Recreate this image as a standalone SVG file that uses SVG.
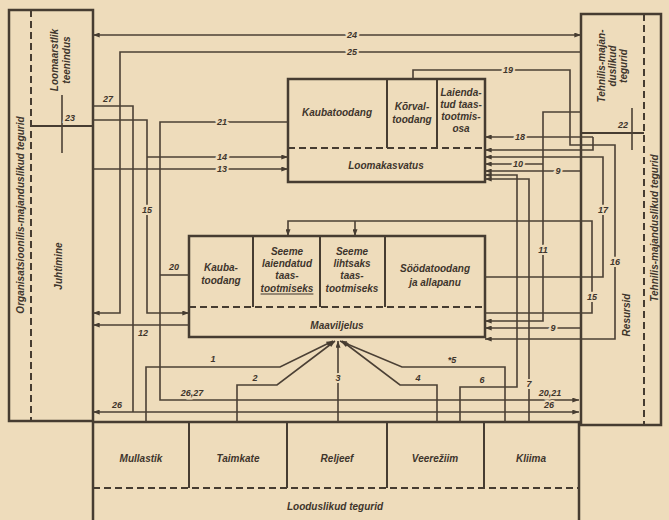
<svg xmlns="http://www.w3.org/2000/svg" width="669" height="520" viewBox="0 0 669 520">
<defs>
<marker id="a" viewBox="0 0 8 6" refX="8" refY="3" markerWidth="8" markerHeight="5" markerUnits="userSpaceOnUse" orient="auto-start-reverse">
<path d="M0,0 L8,3 L0,6 z" fill="#463c31"/>
</marker>
<style>
.bx{fill:none;stroke:#463c31;stroke-width:2.5}
.dv{fill:none;stroke:#463c31;stroke-width:2}
.ds{fill:none;stroke:#463c31;stroke-width:2;stroke-dasharray:7,4}
.c{fill:none;stroke:#4b4035;stroke-width:1.6}
.t{font-family:"Liberation Sans",Arial,sans-serif;font-style:italic;font-weight:bold;font-size:10px;fill:#3e352c;text-anchor:middle;dominant-baseline:central}
.lb{font-family:"Liberation Sans",Arial,sans-serif;font-style:italic;font-weight:bold;font-size:9px;fill:#3e352c;text-anchor:middle;dominant-baseline:central;stroke:#eedcbb;stroke-width:4;paint-order:stroke}
</style>
</defs>
<rect width="669" height="520" fill="#eedcbb"/>

<g id="left-box">
<rect class="bx" x="9" y="10" width="84" height="411" stroke-width="3"/>
<line class="ds" x1="31" y1="10" x2="31" y2="421"/>
<line class="dv" x1="31" y1="126" x2="93" y2="126"/>
<text class="t" transform="rotate(-90 20 215)" x="20" y="215" font-size="9.5">Organisatsioonilis-majanduslikud tegurid</text>
<text class="t" transform="rotate(-90 58 266)" x="58" y="266">Juhtimine</text>
<text class="t" transform="rotate(-90 54 60)" x="54" y="60" font-size="9">Loomaarstlik</text>
<text class="t" transform="rotate(-90 66 60)" x="66" y="60" font-size="9">teenindus</text>
</g>

<g id="right-box">
<rect class="bx" x="581" y="14" width="80" height="411" stroke-width="3"/>
<line class="ds" x1="644" y1="14" x2="644" y2="425"/>
<line class="dv" x1="581" y1="133" x2="644" y2="133"/>
<text class="t" transform="rotate(-90 601 66)" x="601" y="66" font-size="9">Tehnilis-majan-</text>
<text class="t" transform="rotate(-90 612 66)" x="612" y="66" font-size="9">duslikud</text>
<text class="t" transform="rotate(-90 623 66)" x="623" y="66" font-size="9">tegurid</text>
<text class="t" transform="rotate(-90 626 315)" x="626" y="315" font-size="9">Resursid</text>
<text class="t" transform="rotate(-90 654 228)" x="654" y="228" font-size="9.5">Tehnilis-majanduslikud tegurid</text>
</g>

<g id="loomakasvatus">
<rect class="bx" x="288" y="79" width="197" height="103"/>
<line class="dv" x1="387" y1="79" x2="387" y2="148"/>
<line class="dv" x1="437" y1="79" x2="437" y2="148"/>
<line class="ds" x1="288" y1="148" x2="485" y2="148"/>
<text class="t" x="337" y="112">Kaubatoodang</text>
<text class="t" x="412" y="106" font-size="9">Kõrval-</text>
<text class="t" x="412" y="119" font-size="9">toodang</text>
<text class="t" x="461" y="92" font-size="9">Laienda-</text>
<text class="t" x="461" y="104" font-size="9">tud taas-</text>
<text class="t" x="461" y="116" font-size="9">tootmis-</text>
<text class="t" x="461" y="128" font-size="9">osa</text>
<text class="t" x="386" y="165">Loomakasvatus</text>
</g>

<g id="maaviljelus">
<rect class="bx" x="189" y="236" width="296" height="101"/>
<line class="dv" x1="253" y1="236" x2="253" y2="307"/>
<line class="dv" x1="320" y1="236" x2="320" y2="307"/>
<line class="dv" x1="385" y1="236" x2="385" y2="307"/>
<line class="ds" x1="189" y1="307" x2="485" y2="307"/>
<text class="t" x="221" y="267" font-size="9">Kauba-</text>
<text class="t" x="221" y="280" font-size="9">toodang</text>
<text class="t" x="287" y="251" font-size="9">Seeme</text>
<text class="t" x="287" y="263" font-size="9">laiendatud</text>
<text class="t" x="287" y="275" font-size="9">taas-</text>
<text class="t" x="287" y="288" font-size="9" text-decoration="underline">tootmiseks</text>
<text class="t" x="352" y="251" font-size="9">Seeme</text>
<text class="t" x="352" y="263" font-size="9">lihtsaks</text>
<text class="t" x="352" y="275" font-size="9">taas-</text>
<text class="t" x="352" y="288" font-size="9">tootmiseks</text>
<text class="t" x="435" y="268">Söödatoodang</text>
<text class="t" x="435" y="282">ja allapanu</text>
<text class="t" x="337" y="325">Maaviljelus</text>
</g>

<g id="looduslikud">
<path class="bx" d="M93,522 V422 H579 V522"/>
<line class="dv" x1="189" y1="422" x2="189" y2="488"/>
<line class="dv" x1="287" y1="422" x2="287" y2="488"/>
<line class="dv" x1="387" y1="422" x2="387" y2="488"/>
<line class="dv" x1="484" y1="422" x2="484" y2="488"/>
<line class="ds" x1="93" y1="488" x2="579" y2="488"/>
<text class="t" x="141" y="458">Mullastik</text>
<text class="t" x="238" y="458">Taimkate</text>
<text class="t" x="337" y="458">Reljeef</text>
<text class="t" x="435" y="458">Veerežiim</text>
<text class="t" x="531" y="458">Kliima</text>
<text class="t" x="335" y="506">Looduslikud tegurid</text>
</g>

<g id="connectors">
<path class="c" d="M93,35 H581" marker-start="url(#a)" marker-end="url(#a)"/>
<path class="c" d="M581,52 H120 V313 H93" marker-end="url(#a)"/>
<path class="c" d="M93,106 H133 V412"/>
<path class="c" d="M93,120 H147 V313 H189" marker-end="url(#a)"/>
<path class="c" d="M147,157 H288" marker-end="url(#a)"/>
<path class="c" d="M288,122 H160 V400 H579" marker-end="url(#a)"/>
<path class="c" d="M189,275 H160"/>
<path class="c" d="M93,169 H288" marker-end="url(#a)"/>
<path class="c" d="M189,325 H93" marker-end="url(#a)"/>
<path class="c" d="M93,412 H579" marker-start="url(#a)" marker-end="url(#a)"/>
<path class="c" d="M62,95 V153"/>
<path class="c" d="M632,108 V150"/>

<path class="c" d="M146,422 V367 H280 L333,341" marker-end="url(#a)"/>
<path class="c" d="M237,422 V385 H277 L335,341" marker-end="url(#a)"/>
<path class="c" d="M338,422 V341" marker-end="url(#a)"/>
<path class="c" d="M437,422 V385 H400 L342,341" marker-end="url(#a)"/>
<path class="c" d="M505,422 V367 H402 L340,341" marker-end="url(#a)"/>
<path class="c" d="M460,422 V387 H517 V175 H485" marker-end="url(#a)"/>
<path class="c" d="M529,422 V179 H485" marker-end="url(#a)"/>

<path class="c" d="M413,79 V70 H570 V145 H615 V339 H485" marker-end="url(#a)"/>
<path class="c" d="M593,137 H485" marker-end="url(#a)"/>
<path class="c" d="M593,137 V150 H485" marker-end="url(#a)"/>
<path class="c" d="M485,277 H603 V157 H485" marker-end="url(#a)"/>
<path class="c" d="M485,313 H592 V221 H288 V236" marker-end="url(#a)"/>
<path class="c" d="M355,221 V236" marker-end="url(#a)"/>
<path class="c" d="M581,112 H543 V321 H485" marker-end="url(#a)"/>
<path class="c" d="M543,164 H485" marker-end="url(#a)"/>
<path class="c" d="M581,171 H485" marker-end="url(#a)"/>
<path class="c" d="M581,328 H485" marker-end="url(#a)"/>

<text class="lb" x="352" y="35">24</text>
<text class="lb" x="352" y="52">25</text>
<text class="lb" x="108" y="99">27</text>
<text class="lb" x="70" y="118">23</text>
<text class="lb" x="222" y="122">21</text>
<text class="lb" x="222" y="157">14</text>
<text class="lb" x="222" y="169">13</text>
<text class="lb" x="147" y="210">15</text>
<text class="lb" x="174" y="267">20</text>
<text class="lb" x="143" y="333">12</text>
<text class="lb" x="117" y="405">26</text>
<text class="lb" x="192" y="393">26,27</text>
<text class="lb" x="213" y="359">1</text>
<text class="lb" x="255" y="378">2</text>
<text class="lb" x="338" y="378">3</text>
<text class="lb" x="418" y="378">4</text>
<text class="lb" x="452" y="360">*5</text>
<text class="lb" x="482" y="380">6</text>
<text class="lb" x="529" y="384">7</text>
<text class="lb" x="550" y="393">20,21</text>
<text class="lb" x="549" y="405">26</text>
<text class="lb" x="508" y="70">19</text>
<text class="lb" x="520" y="137">18</text>
<text class="lb" x="518" y="164">10</text>
<text class="lb" x="558" y="171">9</text>
<text class="lb" x="553" y="328">9</text>
<text class="lb" x="543" y="250">11</text>
<text class="lb" x="603" y="210">17</text>
<text class="lb" x="615" y="262">16</text>
<text class="lb" x="592" y="297">15</text>
<text class="lb" x="623" y="125">22</text>
</g>
</svg>
